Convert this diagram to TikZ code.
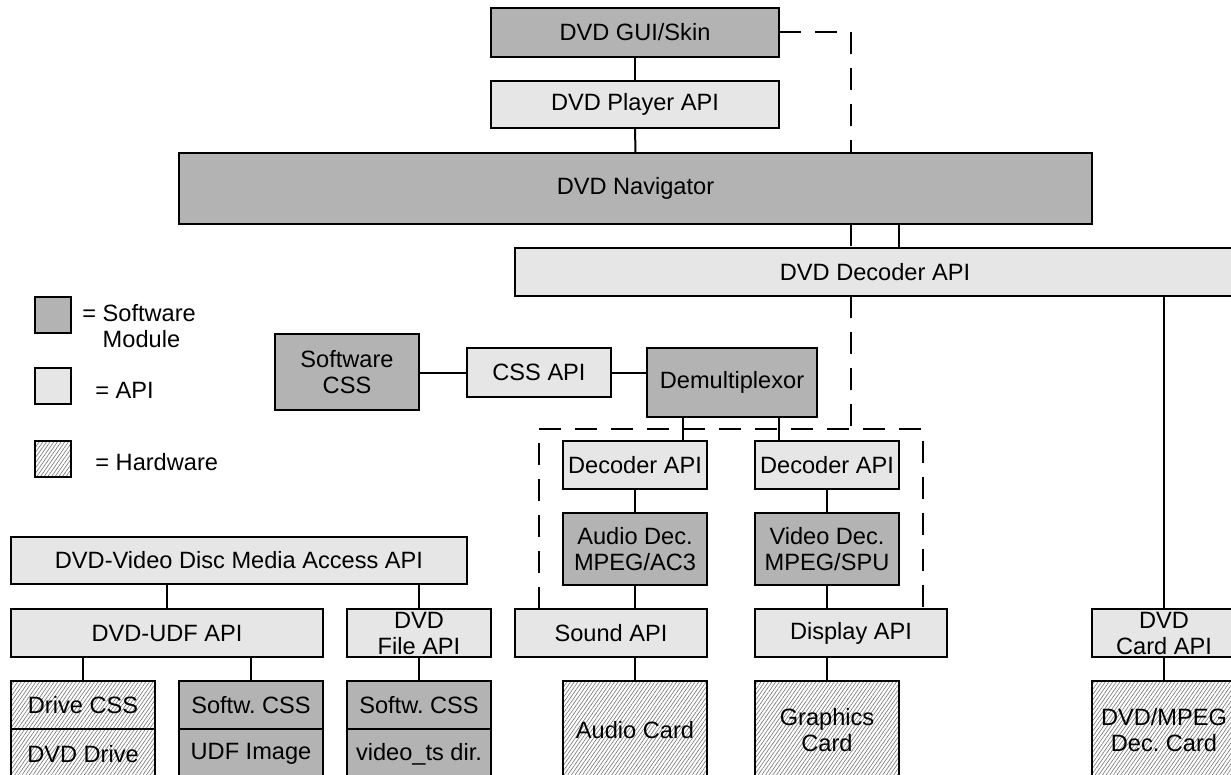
\documentclass[tikz,border=0pt]{standalone}
\usepackage{fontspec}
\setmainfont{Liberation Sans}
\usetikzlibrary{patterns.meta}
\definecolor{swgray}{RGB}{179,179,179}
\definecolor{apigray}{RGB}{230,230,230}
\frenchspacing
\begin{document}
\begin{tikzpicture}[x=0.5pt,y=-0.5pt,
  font=\fontsize{11.8}{13}\selectfont,
  spanbox/.style n args={4}{minimum width={(#3-#1)*0.5pt}, minimum height={(#4-#2)*0.5pt},
    at={({(#1+#3)/2},{(#2+#4)/2})}},
  box/.style={draw=black, line width=1pt, inner sep=0pt, outer sep=0pt, align=center, anchor=center},
  sw/.style={box, fill=swgray},
  api/.style={box, fill=apigray},
  hw/.style={box, pattern={Lines[angle=55,distance=1.5pt,line width=0.3pt]}, pattern color=black!55},
  link/.style={line width=1pt},
  dashlink/.style={line width=1pt, dash pattern=on 11pt off 7pt},
  legtext/.style={anchor=west, inner sep=0pt, align=left}]
\useasboundingbox (0,0) rectangle (1231,775);

% player stack
\node[sw,  spanbox={491}{8}{779}{57}]     (gui)    {DVD GUI/Skin};
\node[api, spanbox={491}{81}{779}{128}]   (player) {DVD Player API};
\node[sw,  spanbox={179}{153}{1092}{224}] (nav)    {DVD Navigator};
\node[api, spanbox={515}{248}{1235}{296}] (decapi) {DVD Decoder API};

% legend
\node[sw,  spanbox={35}{297}{71}{333}] (legsw)  {};
\node[api, spanbox={35}{368}{71}{404}] (legapi) {};
\node[hw,  spanbox={35}{441}{71}{477}] (leghw)  {};
\node[legtext] (legswt)  at (82,326) {= Software\\\phantom{= }Module};
\node[legtext] (legapit) at (95,390) {= API};
\node[legtext] (leghwt)  at (95,462) {= Hardware};

% CSS and demultiplexing
\node[sw,  spanbox={275}{334}{419}{410}] (swcss)  {Software\\CSS};
\node[api, spanbox={467}{348}{611}{397}] (cssapi) {CSS API};
\node[sw,  spanbox={647}{348}{817}{417}] (demux)  {Demultiplexor};

% decoders
\node[api, spanbox={563}{441}{707}{489}] (decl)  {Decoder API};
\node[api, spanbox={755}{441}{899}{489}] (decr)  {Decoder API};
\node[sw,  spanbox={563}{513}{707}{585}] (audio) {Audio Dec.\\MPEG/AC3};
\node[sw,  spanbox={755}{513}{899}{585}] (video) {Video Dec.\\MPEG/SPU};
\node[api, spanbox={515}{609}{707}{657}] (sound)   {Sound API};
\node[api, spanbox={755}{609}{947}{657}] (display) {Display API};
\node[hw,  spanbox={563}{681}{707}{779}] (audiocard) {Audio Card};
\node[hw,  spanbox={755}{681}{899}{779}] (gfxcard)   {Graphics\\Card};

% hardware decoder card
\node[api, spanbox={1092}{609}{1236}{657}] (cardapi) {DVD\\Card API};
\node[hw,  spanbox={1092}{681}{1236}{779}] (deccard) {DVD/MPEG\\Dec. Card};

% disc access
\node[api, spanbox={11}{537}{467}{584}]  (media) {DVD-Video Disc Media Access API};
\node[api, spanbox={11}{609}{323}{657}]  (udf)   {DVD-UDF API};
\node[api, spanbox={347}{609}{491}{657}] (file)  {DVD\\File API};
\node[hw,  spanbox={11}{681}{155}{729}]  (drivecss) {Drive CSS};
\node[hw,  spanbox={11}{729}{155}{779}]  (drive)    {DVD Drive};
\node[sw,  spanbox={179}{681}{323}{729}] (softcssa) {Softw. CSS};
\node[sw,  spanbox={179}{729}{323}{779}] (udfimg)   {UDF Image};
\node[sw,  spanbox={347}{681}{491}{729}] (softcssb) {Softw. CSS};
\node[sw,  spanbox={347}{729}{491}{779}] (tsdir)    {video\_ts dir.};

% helper coordinates for off-centre connectors
\coordinate (gk) at (851,32.5);
\coordinate (nd) at (899,0);
\coordinate (da) at (683,0);
\coordinate (db) at (779,0);
\coordinate (m1) at (167,0);
\coordinate (bl) at (539,429);
\coordinate (br) at (923,429);

% solid connectors
\draw[link] (gui.south) -- (player.north);
\draw[link] (player.south) -- (nav.north);
\draw[link] (nd |- nav.south) -- (nd |- decapi.north);
\draw[link] (cardapi.north |- decapi.south) -- (cardapi.north);
\draw[link] (cardapi.south) -- (deccard.north);
\draw[link] (swcss.east |- cssapi.west) -- (cssapi.west);
\draw[link] (cssapi.east) -- (demux.west |- cssapi.east);
\draw[link] (da |- demux.south) -- (da |- decl.north);
\draw[link] (db |- demux.south) -- (db |- decr.north);
\draw[link] (decl.south) -- (audio.north);
\draw[link] (decr.south) -- (video.north);
\draw[link] (audio.south) -- (audio.south |- sound.north);
\draw[link] (video.south) -- (video.south |- display.north);
\draw[link] (audiocard.north |- sound.south) -- (audiocard.north);
\draw[link] (gfxcard.north |- display.south) -- (gfxcard.north);
\draw[link] (m1 |- media.south) -- (m1 |- udf.north);
\draw[link] (file.north |- media.south) -- (file.north);
\draw[link] (drivecss.north |- udf.south) -- (drivecss.north);
\draw[link] (softcssa.north |- udf.south) -- (softcssa.north);
\draw[link] (file.south) -- (softcssb.north);

% dashed control path
\draw[dashlink] (gui.east) -- (gk) -- (gk |- nav.north);
\draw[dashlink] (gk |- nav.south) -- (gk |- decapi.north);
\draw[dashlink] (gk |- decapi.south) -- (gk |- bl);
\draw[dashlink] (bl |- sound.north) -- (bl) -- (br) -- (br |- display.north);
\end{tikzpicture}
\end{document}
